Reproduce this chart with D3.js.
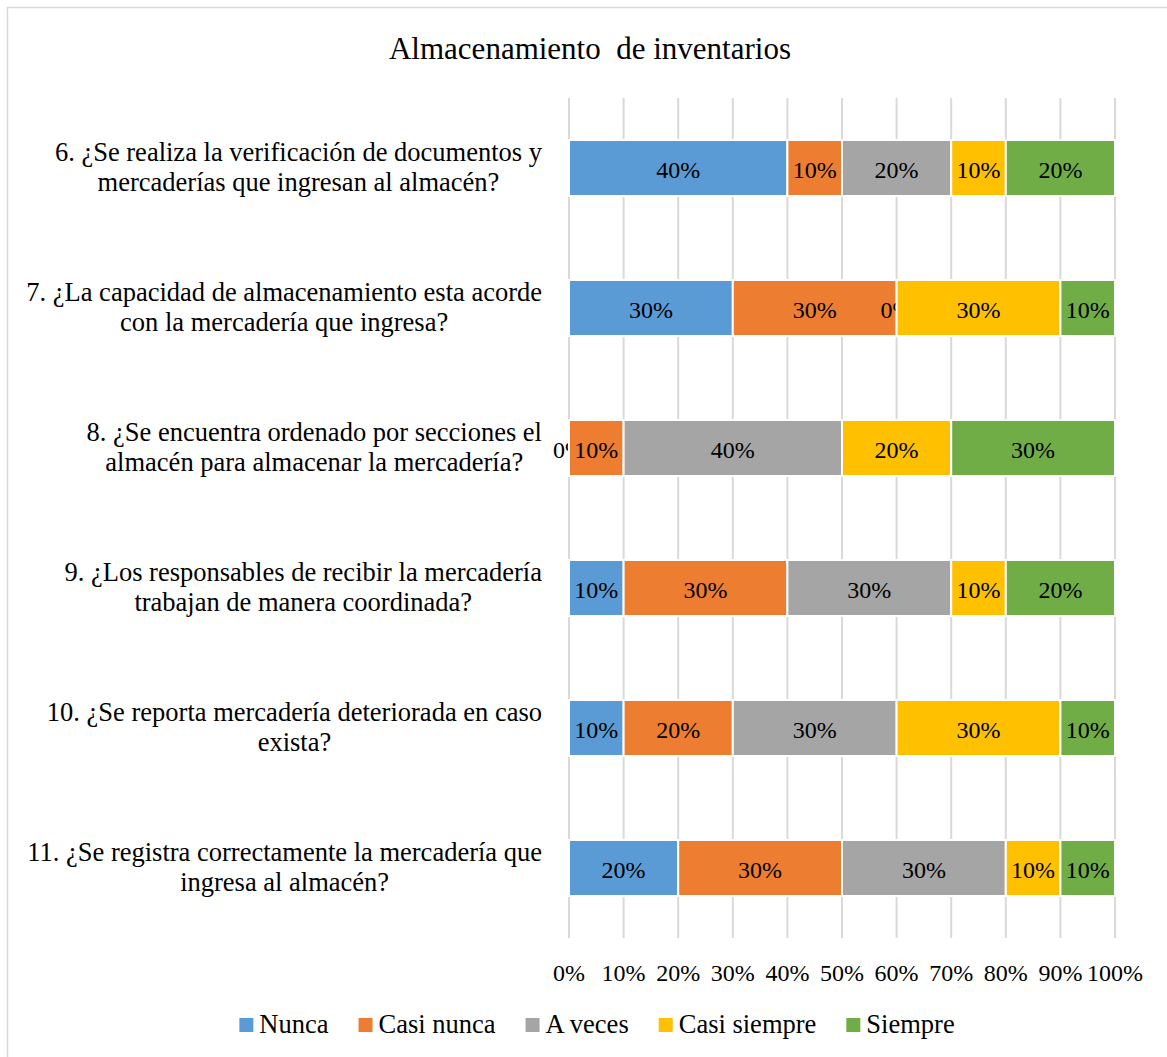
<!doctype html>
<html lang="es">
<head>
  <meta charset="utf-8">
  <title>Almacenamiento de inventarios</title>
  <style>
    body { margin: 0; background: #fff; }
    svg { display: block; }
    text { font-family: 'Liberation Serif', 'Times New Roman', Tinos, 'DejaVu Serif', serif; fill: #000; }
    .grid line { stroke: #d9d9d9; stroke-width: 2; }
    .lbl { font-size: 24px; }
    .cat { font-size: 26.5px; }
  </style>
</head>
<body>
<div id="chart"></div>
<script src="https://d3js.org/d3.v7.min.js"></script>
<script>
// categories (top to bottom) and series
const questions = [
  '6. ¿Se realiza la verificación de documentos y mercaderías que ingresan al almacén?',
  '7. ¿La capacidad de almacenamiento esta acorde con la mercadería que ingresa?',
  '8. ¿Se encuentra ordenado por secciones el almacén para almacenar la mercadería?',
  '9. ¿Los responsables de recibir la mercadería trabajan de manera coordinada?',
  '10. ¿Se reporta mercadería deteriorada en caso exista?',
  '11. ¿Se registra correctamente la mercadería que ingresa al almacén?'
];
const seriesNames = ['Nunca', 'Casi nunca', 'A veces', 'Casi siempre', 'Siempre'];
const seriesColors = ['#5b9bd5', '#ed7d31', '#a5a5a5', '#ffc000', '#70ad47'];

// percent per question, one array per series
const nunca       = [40, 30, 0, 10, 10, 20];
const casiNunca   = [10, 30, 10, 30, 20, 30];
const aVeces      = [20, 0, 40, 30, 30, 30];
const casiSiempre = [10, 30, 20, 10, 30, 10];
const siempre     = [20, 10, 30, 20, 10, 10];

const tickValues = [0, 10, 20, 30, 40, 50, 60, 70, 80, 90, 100];

const W = 1167, H = 1057;
const plot = { left: 569, right: 1115, top: 98, bottom: 938 };

const svg = d3.select('#chart').append('svg')
  .attr('width', W)
  .attr('height', H);

// chart area border (only top/left visible in the crop)
svg.append('rect')
  .attr('x', 7.5).attr('y', 7.5)
  .attr('width', W + 20).attr('height', H + 20)
  .attr('fill', '#fff')
  .attr('stroke', '#d9d9d9')
  .attr('stroke-width', 1.5);

svg.append('text')
  .attr('x', 590).attr('y', 59)
  .attr('text-anchor', 'middle')
  .style('font-size', '31px')
  .attr('xml:space', 'preserve')
  .text('Almacenamiento  de inventarios');

const x = d3.scaleLinear().domain([0, 100]).range([plot.left, plot.right]);
const y = d3.scaleBand()
  .domain(questions)
  .range([plot.top, plot.bottom])
  .paddingInner(0.6)
  .paddingOuter(0.3);

// vertical gridlines
svg.append('g').attr('class', 'grid')
  .selectAll('line')
  .data(tickValues)
  .join('line')
  .attr('x1', d => x(d)).attr('x2', d => x(d))
  .attr('y1', plot.top).attr('y2', plot.bottom);

// x tick labels
svg.append('g')
  .selectAll('text')
  .data(tickValues)
  .join('text')
  .attr('class', 'lbl')
  .attr('x', d => x(d))
  .attr('y', 981)
  .attr('text-anchor', 'middle')
  .text(d => d + '%');

// stack the series
const rows = questions.map((q, i) => ({
  q,
  Nunca: nunca[i],
  'Casi nunca': casiNunca[i],
  'A veces': aVeces[i],
  'Casi siempre': casiSiempre[i],
  Siempre: siempre[i]
}));
const stacked = d3.stack().keys(seriesNames)(rows);

// each series draws its bars then its labels, so a later series can cover a 0% label
const bars = svg.append('g');
stacked.forEach((s, si) => {
  const g = bars.append('g');
  g.append('g')
    .attr('fill', seriesColors[si])
    .selectAll('rect')
    .data(s)
    .join('rect')
    .attr('x', d => x(d[0]))
    .attr('y', d => y(d.data.q))
    .attr('width', d => x(d[1]) - x(d[0]))
    .attr('height', y.bandwidth())
    .attr('stroke', '#fff')
    .attr('stroke-width', 2);
  g.append('g')
    .selectAll('text')
    .data(s)
    .join('text')
    .attr('class', 'lbl')
    .attr('x', d => (x(d[0]) + x(d[1])) / 2)
    .attr('y', d => y(d.data.q) + y.bandwidth() / 2 + 10)
    .attr('text-anchor', 'middle')
    .text(d => (d[1] - d[0]) + '%');
});

// category labels, wrapped and centred as a block right of the axis
const maxLine = 530;
const catG = svg.append('g');
questions.forEach(q => {
  const words = q.split(' ');
  const lines = [];
  let cur = '';
  const probe = catG.append('text').attr('class', 'cat');
  words.forEach(w => {
    const test = cur ? cur + ' ' + w : w;
    probe.text(test);
    if (probe.node().getComputedTextLength() > maxLine && cur) {
      lines.push(cur);
      cur = w;
    } else {
      cur = test;
    }
  });
  lines.push(cur);
  let widest = 0;
  lines.forEach(l => {
    probe.text(l);
    widest = Math.max(widest, probe.node().getComputedTextLength());
  });
  probe.remove();
  const cx = 542 - widest / 2;
  const cy = y(q) + y.bandwidth() / 2;
  const lh = 30;
  const t = catG.append('text')
    .attr('class', 'cat')
    .attr('text-anchor', 'middle');
  lines.forEach((l, i) => {
    t.append('tspan')
      .attr('x', cx)
      .attr('y', cy + 8 + (i - (lines.length - 1) / 2) * lh)
      .text(l);
  });
});

// legend
const legend = svg.append('g');
let lx = 0;
const items = [];
seriesNames.forEach((n, i) => {
  const g = legend.append('g');
  g.append('rect')
    .attr('width', 14).attr('height', 14)
    .attr('y', -15)
    .attr('fill', seriesColors[i]);
  const t = g.append('text').attr('class', 'cat').attr('x', 20).text(n);
  items.push({ g, w: 20 + t.node().getComputedTextLength() });
});
items.forEach(it => {
  it.g.attr('transform', `translate(${lx},0)`);
  lx += it.w + 30;
});
const legendW = lx - 30;
legend.attr('transform', `translate(${597 - legendW / 2},1033)`);
</script>
</body>
</html>
